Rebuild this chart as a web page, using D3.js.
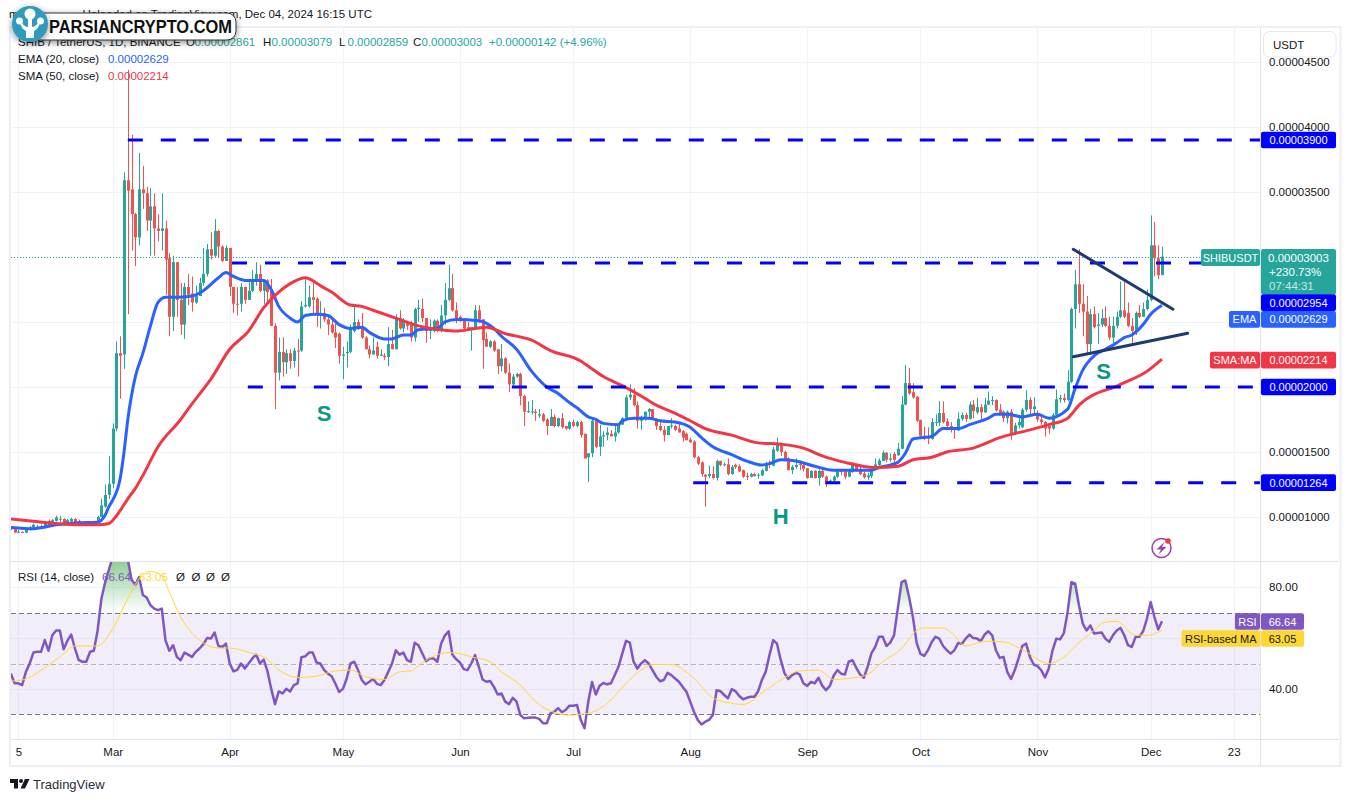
<!DOCTYPE html>
<html>
<head>
<meta charset="utf-8">
<title>SHIBUSDT</title>
<script src="https://cdn.jsdelivr.net/npm/d3@7"></script>
<style>
  html, body { margin: 0; padding: 0; background: #fff; }
  svg { display: block; }
  text { font-family: "Liberation Sans", Arial, sans-serif; font-size: 11.5px; fill: #131722; }
</style>
</head>
<body>
<svg id="chart" width="1350" height="802"></svg>
<script>
// prices are in millionths of a USDT, one entry per day from Feb 3 2024, a line per month
var opens = [
  9.1,9.15,8.85,8.85,8.8,9,9.2,9.2,9.2,9.25,9.7,9.4,9.7,9.85,9.85,9.5,9.65,9.85,9.7,9.55,9.5,9.4,9.55,9.6,10,10.8,11.7,
  12.55,16.8,22.6,22.5,35.9,35.2,33.3,31.5,35.2,34.9,32.8,33.9,32.2,32,32.2,29.9,25.4,29.6,26.7,24.8,27.7,27.2,26.5,27,28,28.7,30.6,30.1,32,30.8,29.7,
  30.7,27.7,26.4,26.4,27.7,26.7,27.4,28.2,28.7,27.4,28.2,27.4,24.7,21.1,22.7,21.9,22.6,22,22.8,22.8,26.2,26.2,26.9,26.8,25.6,25.7,25.2,24.8,24.2,24.1,
  22.4,22.6,22.7,24.3,25,24.7,23.8,22.9,22.5,23.1,22.4,22.4,22.3,23.3,22.9,25.3,24.5,25,24.9,23.8,26,26,25.3,24.3,24.3,25.1,24.3,25.5,26.7,27.6,25.9,
  25.4,25.2,24.6,24.4,24.6,25.9,25.2,23.7,23.1,23.5,22.9,21.6,22.2,21.1,20.2,20.8,21,19.3,18.1,18.1,18.1,17.8,17.9,17.5,17,17.7,17,17.6,17,16.8,
  17.3,17,17.3,16.4,14.6,14.9,17.4,15.4,16.2,16.3,16.4,16.2,16.5,17.1,17.6,19.2,19.4,18.6,17.4,17.7,18.1,18.3,17.5,17,16.7,16.3,17,17,16.8,16.6,16.4,
  15.95,15.8,14.6,14.2,13.25,13.15,13.3,13,14.3,14,14.05,13.3,14,13.9,13.6,13.15,13.1,13.3,13.2,13.2,13.55,14.1,13.95,15.1,15.5,15,14.5,13.6,13.85,14.1,14,
  13.75,13,13.55,13,13.55,13.1,12.7,12.8,13.1,13.6,13.5,13.1,13.45,14,13.65,13.35,13.05,13.15,13.65,14,14.3,14.95,14.4,14.85,14.75,15.25,18.65,20.3,19.6,19.25,
  17.45,16.25,16.2,16,17.3,17.25,18,17.35,17,16.75,16.65,17.55,17.85,17.55,18.65,18.05,18.45,18.05,18.65,18.95,19,18.25,18.1,17.6,18.1,16.45,17.05,16.9,18.25,19,18.3,
  17.95,17.5,17.3,17,16.8,17.85,19.05,19.15,19,20.4,26,27.9,26.4,25.8,23.3,25.6,24.7,24.8,25.3,24.7,23.8,24.7,25.4,25.9,25.7,24.7,24.3,25.7,25.4,26,
  26.7,30.9,29.9,28.61
];
var closes = [
  9.15,8.8,8.87,8.8,9,9.2,9.4,9.25,9.25,9.6,9.35,9.75,9.97,9.87,9.5,9.75,9.85,9.55,9.4,9.45,9.45,9.6,9.65,10,10.9,11.7,12.55,
  16.8,22.6,22.4,35.9,35.1,33.3,31.5,35.2,34.9,32.8,33.9,32.2,32,32.2,29.8,25.4,29.6,26.7,24.8,27.7,27.1,26.5,27,28,28.7,30.6,30.1,32,30.8,29.7,30.7,
  27.7,26.4,26.35,27.7,26.7,27.4,28.2,28.7,27.4,28.2,27.3,24.7,21.1,22.7,21.9,22.6,22,22.8,22.75,26.2,26.3,26.9,26.7,25.6,25.7,25.2,24.8,24.2,23.8,22.4,
  22.5,22.7,24.5,25,24.5,23.8,22.9,22.5,22.8,22.4,22.5,22.3,23.3,22.9,25.3,24.5,25,24.7,23.8,26,26.1,25.3,24.3,24.6,25.1,24.3,25.5,26.7,27.6,25.9,25.2,
  25.1,24.5,24.4,24.6,25.9,25.2,23.6,23.1,23.5,22.8,21.6,22.2,21.1,20.2,20.8,21,19.3,18.1,18.15,18.12,18,17.9,17.4,17,17.7,17,17.6,16.9,16.8,17.3,
  17,17.3,16.3,14.5,14.9,17.4,15.4,16.2,16.3,16.5,16.2,16.5,17.1,17.6,19.2,19.4,18.6,17.4,17.7,18.1,18.3,17.5,17,16.7,16.3,17,17.05,16.7,16.5,16.1,15.9,
  15.75,14.6,14.1,13.3,13.1,13.3,13,14.3,14,14.05,13.3,13.85,13.85,13.5,13.1,13.1,13.3,13.15,13.25,13.6,14.1,14,15.2,15.6,15,14.3,13.6,13.85,14,14,13.7,
  13,13.55,13,13.55,13.1,12.7,12.8,13.1,13.6,13.5,13.1,13.5,14,13.55,13.3,13.05,13.2,13.65,14.05,14.35,14.95,14.4,14.5,14.4,15.25,18.65,20.3,19.5,19.2,17.4,
  16.25,16,16,17.3,17.3,18,17.3,17,16.95,16.7,17.55,17.85,17.55,18.65,18.15,18.45,18.05,18.65,18.95,19,18.2,18,17.6,18.1,16.45,17.05,17.3,18.25,19,18.3,18.5,
  17.5,17.3,16.8,16.8,17.85,19.05,19.15,19,20.4,26,27.9,26.4,25.8,23.3,25.6,24.6,24.8,25.3,24.7,23.8,24.7,25.4,25.9,25.4,24.7,24.3,25.7,25.4,26,26.7,
  30.9,29.9,28.6,30.03
];
var highs = [
  9.3,9.2,9,8.9,9.05,9.3,9.5,9.4,9.4,9.7,9.8,9.85,10.1,10.05,9.9,9.85,9.95,9.9,9.8,9.65,9.6,9.65,9.7,10.1,11.4,12.5,14.7,
  17.2,23.5,23.9,36.5,44.4,39.4,33.4,38,37,35.4,35.3,34.9,33.3,34.9,32.8,30.3,30.1,29.6,28,28,28.7,28.5,27.8,28.4,30.7,31,31.9,32.9,32.1,30.9,30.9,
  30.7,27.7,27.7,28,27.7,28.2,29,29.6,29.4,28.3,28.3,28.3,24.9,23.8,23.8,22.9,22.9,23,23.7,26.6,28.3,27.8,28,26.9,26.6,26.1,25.5,25.3,24.9,24.2,
  23.1,23.5,24.8,26.3,25.2,25.7,23.9,23.2,23.8,23.5,22.9,22.6,24.6,24.4,25.6,25.9,25.3,25.1,25.1,26.1,26.7,26.8,25.3,25.2,25.2,25.2,26.3,28,29.4,28.7,26.5,
  25.5,25.3,25,24.6,26.3,26.3,25.2,24.2,23.6,23.6,22.9,23.3,22.3,21.8,21,21.1,21.1,19.4,18.9,19,18.3,18.3,18,17.6,18.3,17.9,17.65,18,17,17.4,
  17.5,17.4,17.4,16.4,14.9,17.6,17.5,17.1,16.6,16.9,16.7,17.1,17.1,17.7,19.4,20.2,19.9,18.9,17.8,18.1,18.4,18.3,17.6,17.3,17,17,17.6,17.1,17.3,16.7,16.5,
  16.1,15.9,14.7,14.3,13.3,13.95,13.9,14.4,14.35,14.2,14.5,14,14.1,14.05,13.65,13.4,13.4,13.4,13.35,13.7,14.25,14.35,15.4,16.1,15.7,15.1,14.6,14,14.5,14.3,14.1,
  13.75,13.6,13.6,13.65,13.7,13.2,12.9,13.2,13.7,13.7,13.6,13.6,14.2,14.1,13.9,13.5,13.4,13.75,14.5,14.5,15.1,15,14.9,15,15.7,19.3,21.7,21.45,20.3,19.3,
  17.5,16.95,16.9,17.6,17.9,18.9,18.9,17.6,17.3,16.9,18.05,18.05,18,18.9,19,19.15,18.7,19.15,19.65,19.3,19.05,18.7,18.2,18.2,18.3,17.25,17.6,18.4,19.75,19.2,19.2,
  18.2,17.8,17.4,17.2,18,19.8,19.4,19.5,21.3,26.1,29,30.6,27.9,27,26,26.2,25.7,26,26.2,25.4,25.4,25.8,28.1,28.1,26.5,25.3,25.8,26.3,26.5,27.5,
  33.2,32.7,30.9,30.79
];
var lows = [
  9,8.75,8.75,8.75,8.75,8.95,9.15,9.1,9.1,9.1,9.2,9.3,9.65,9.6,9.45,9.45,9.6,9.35,9.3,9.35,9.3,9.35,9.5,9.55,10,10.7,11.4,
  12.2,16.6,19.1,21.4,25.6,30.5,29.3,30.9,33.7,32,30.1,30.1,31.2,30.5,27.1,23.9,24.3,25.4,24,23.7,26.3,25.8,26.4,27,27.8,28.5,29.8,30,30,29.6,29.7,
  27,25.7,25.5,25.8,26.4,26.7,27.3,27.8,27.3,26.4,26.4,24.7,18.3,20.5,20.8,21,21.4,21.5,20.8,22.7,26.1,26.1,25.6,24.6,24.5,25,24,24.1,23,21.8,
  20.6,21.5,22.6,24.2,24.4,23.7,22.9,22.2,22.5,22.2,22.4,22.1,21.6,22.9,22.9,24.4,24.2,24.4,23.5,23.5,25,25,23.4,23.7,24.2,24.2,24.2,24.8,26.6,25.8,24.9,
  25,24.3,24.3,22.8,24.5,24.9,21.4,23.1,23,22.7,21,21.2,21,19.6,20,20.7,18.6,17,18,17.9,17.4,17.6,17.3,16.3,17,16.9,16.9,16.8,16.7,16.7,
  16.9,16.9,16.1,14.5,12.7,14.6,15.3,14.7,15.4,15.9,16.2,15.8,16.4,17.1,17.5,19,18.5,16.8,16.7,17.4,17.5,17.5,16.7,16.6,15.8,16.3,16.8,16.6,16.5,15.8,15.9,
  15.7,14.5,14,13.1,10.8,13,12.9,12.8,13.9,13.9,13.2,13.25,13.7,13.45,13,12.85,13.05,13.1,12.95,13.15,13.5,13.75,13.9,15,14.7,14.3,13.6,13.3,13.7,13.6,13.5,
  12.95,13,12.95,12.4,13,12.3,12.6,12.7,13,13.2,12.9,13.05,13.4,13.5,13.2,12.95,12.85,13,13.6,13.9,14.3,14.2,14.25,14.2,14.7,15.2,18.6,19.4,19.1,17.3,
  16,15.9,15.6,15.95,17,17,17.2,16.9,16.5,16,16.6,17.4,17.3,17.5,17.6,17.9,17.5,18,18.6,18.6,18.1,17.9,17.3,17.2,15.9,16.3,16.8,16.85,18.1,17.9,18,
  17.3,17.1,16.2,16.4,16.7,17.6,18.8,18.8,18.9,20.3,24.5,25.7,23.9,22.6,22.6,24.5,23.3,24.6,24.6,23.6,22.9,24.5,25.3,25.3,24.6,23.4,24,25.3,25.4,25.9,
  26.6,28.5,28.3,28.59
];

var emaDays = [0,6,12,18,23,25,26,27,29,30,31,33,35,37,39,41,44,48,51,55,57,59,62,67,69,71,74,76,78,81,84,87,90,93,95,99,101,104,106,108,113,115,118,124,128,130,134,138,142,145,148,150,153,155,157,161,162,165,169,172,176,180,183,186,191,195,199,201,204,208,213,218,223,228,230,235,237,239,241,244,247,251,254,259,261,264,268,272,275,280,282,284,287,290,293,295,297,300,302,305];
var emaValues = [9.2,9.1,9.4,9.55,9.6,10.15,10.8,11.3,13,15,17.5,20.8,22.6,24.7,26.5,26.9,26.9,27,27.4,28.4,28.8,28.5,28.2,28.2,27.5,26.2,25.3,25,25.5,25.6,25.5,24.8,24.5,24.6,24.2,23.7,23.7,24,24,24.4,24.5,25,25.2,25.1,24.5,23.9,22.9,21.2,20,19.5,18.8,18.4,17.7,17.5,17.2,17.1,17.4,17.6,17.6,17.4,17.3,16.9,16.1,15.4,14.8,14.3,14,14.1,14.4,14.3,13.9,13.6,13.6,13.6,13.8,14.2,14.9,16,16.1,16.2,16.8,16.8,17.1,17.6,17.9,17.9,17.7,17.9,17.6,18.3,19.9,21.3,22.4,22.9,23.4,23.8,24,24.8,25.6,26.29];
var smaDays = [0,6,12,18,23,26,28,31,33,35,39,45,48,53,58,63,67,71,75,78,82,85,90,93,96,102,108,114,118,123,126,131,138,143,151,153,157,162,167,171,175,180,184,191,198,204,210,215,221,229,235,239,244,248,255,262,270,275,280,283,294,301,305];
var smaValues = [9.85,9.67,9.5,9.4,9.4,9.5,10.1,11.4,12.2,13.2,15.4,17.5,18.7,20.6,22.9,24.3,26.1,27.3,28.1,28.4,27.8,27.3,26.3,26.2,25.9,25.3,24.7,24.4,24.3,24.5,24.6,24.1,23.6,22.8,22,21.6,20.8,20.1,19.3,18.6,18.1,17.4,16.8,16.3,15.7,15.6,15.3,14.7,14.2,13.8,13.9,14.4,14.6,15,15.3,16.1,16.7,17.1,17.6,18.6,20.2,21.2,22.14];

var rsiValues = [
  46.1,42.2,42.2,41.5,46.7,50,54.3,54.6,54.6,59.2,55,61.1,63,63,55.6,59,61.4,55.9,51.3,50.7,50.7,54.6,55,63,75.5,82,87,
  92,96,96,95,91,83,81,84,77,76,73,71.6,71,71.6,59,55,57.2,52.6,51.3,54.3,53.5,52.6,54.6,55.9,57.5,60,59.8,62.2,56.9,56.5,57.8,
  50,46.9,47.5,50,48,50,52,53.5,50,51.5,47,40,34,39,38.2,40,39,41.5,42.2,52.5,52.8,54.3,54.3,50.4,50,47.5,46,45,42,38.8,
  40,44.1,50,50.7,47.4,43.5,41.8,42.8,43.9,42,41.5,43.5,46.7,50,55.2,53.5,54.3,51.3,50.7,58.2,57.2,54,50.9,52,52,50.7,57.8,61,62.7,53.5,51.7,
  50.4,47.8,47.4,50,53.3,48.7,43.7,42.8,43.1,40.8,37.8,38.2,35,34,36.5,35,29.7,28.4,28.6,28.7,28.7,28.2,26.5,26.5,30.4,31,32.4,30.8,31.7,33.4,
  33.4,33.7,27.8,24.5,35,42.7,37.8,41.2,42.3,41.8,42.2,45.4,48.7,53.9,58.9,58.2,50.7,48,50,51.3,50,47.4,44.8,43,43.5,46.3,45.4,44.1,42.8,40.8,38.9,
  35,31,27.8,26,27.1,27.8,29.7,39.5,39.1,37.6,36.3,39.9,39.1,37.2,35.9,36.5,36.9,36.9,39.1,43.5,46.7,53.3,59.2,57.8,51.3,46.1,43.9,45.4,46.3,45.7,42.2,
  41.2,42.8,42.2,44.4,41.2,39.5,41.2,45.2,47.4,46,45.7,50.7,51.3,48.3,45.7,44.4,48.7,54,56.5,60.5,60.5,56.9,58.2,61.1,71.6,82,82.7,76.1,68.3,58.1,
  53.8,53,55.2,58.5,60.5,59.8,56.9,55.2,53.9,55.2,58.1,57.8,59.8,61.4,60,59.8,58.8,61.4,62.7,61.1,55.2,52.2,52.6,46.7,43.9,47.4,52,56.9,57.8,52.6,49.6,
  49,47.4,44.5,48,55.2,59.8,59.5,62,70.3,82,81.4,72.9,65.7,63,65,61.8,62,62.2,59.8,58.5,61.1,63,64,61.1,57.2,56.5,60.5,60.5,62.7,67.6,
  74.2,68.3,63.4,66.64
];
var rsiMaDays = [0,3,9,13,17,23,27,31,34,37,40,42,45,50,55,58,64,67,72,76,81,86,90,94,99,103,106,109,116,119,122,127,130,135,139,143,148,153,159,163,167,170,175,181,186,190,194,200,205,209,214,218,222,227,231,236,240,242,247,249,253,258,263,268,275,279,283,286,290,293,298,301,305];
var rsiMaValues = [43.1,43.5,48.3,52.6,56.9,56.9,63.7,75.5,83.3,86.3,84.6,78.1,68.3,59.2,56.1,56.1,53.9,52.6,46.5,44.5,45,47.1,47.4,44.8,43.7,46.7,47.1,50.4,54.3,53.9,52.6,50.7,46.7,41.5,35,31.3,29.7,30.4,35.6,42.2,47.4,49.6,49.6,44.1,36.5,34.6,33.9,39.5,44.4,47.1,47.4,43.7,44.1,45.7,50.7,55.9,63,64,64,62.4,56.9,58.8,58.5,55.5,50,52.6,58.2,61.8,66.3,66.6,61.1,61.1,63.05];

var tickDays = [2,27,58,88,119,149,180,211,241,272,302,324];
var tickLabels = ['5','Mar','Apr','May','Jun','Jul','Aug','Sep','Oct','Nov','Dec','23'];
var priceGrid = [10,15,20,25,30,35,40,45];
var priceTicks = [10,15,35,40,45];
var rsiTicks = [40,80];
var rsiGrid = [40,60,80];

var levelValues = [39,29.54,20,12.64];
var levelStartDays = [31,58.6,62.8,180.8];
var trendDays = [[281.5,307.9],[281.5,311.8]];
var trendValues = [[30.59,25.98],[22.33,24.13]];
var patternLetters = ['S','H','S'];
var patternDays = [83,204,289.5];
var patternValues = [17.35,9.46,20.6];

var lastClose = 30.03;
var green = '#26a69a';
var red = '#ef5350';
var blue = '#2962ff';
var maRed = '#f23645';
var levelBlue = '#0000ff';
var purple = '#7e57c2';
var yellow = '#fdd835';

var left = 11;
var axisX = 1261;
var right = 1336;
var top_ = 28;
var paneSplit = 561.5;
var rsiBottom = 739.5;
var frameBottom = 766;

var x = d3.scaleLinear().domain([0, 305]).range([10.8, 1162]);
var y = d3.scaleLinear().domain([6.56, 47.69]).range([561.7, 27]);
var yRsi = d3.scaleLinear().domain([30, 80]).range([714.3, 587.3]);

var svg = d3.select('#chart');
var defs = svg.append('defs');

(function go() {
  drawFrame();
  drawGrid();
  drawPricePane();
  drawRsiPane();
  drawAxes();
  drawTags();
  drawLegends();
  drawWatermark();
  drawFooter();
})();

function fmt(v) {
  return (v / 1e6).toFixed(8);
}

function drawFrame() {
  defs.append('clipPath').attr('id', 'main-clip').append('rect')
    .attr('x', left).attr('y', top_).attr('width', axisX - left).attr('height', paneSplit - top_);
  defs.append('clipPath').attr('id', 'rsi-clip').append('rect')
    .attr('x', left).attr('y', paneSplit).attr('width', axisX - left).attr('height', rsiBottom - paneSplit);

  svg.append('rect')
    .attr('x', 10).attr('y', 27).attr('width', 1330.5).attr('height', frameBottom - 27)
    .attr('fill', '#fff').attr('stroke', '#eeeef5').attr('stroke-width', 2);

  svg.append('text').attr('x', 9).attr('y', 18).attr('fill', '#2a2e39').text('m');
  svg.append('text').attr('x', 372).attr('y', 18).attr('text-anchor', 'end').attr('fill', '#2a2e39')
    .text('Uploaded on TradingView.com, Dec 04, 2024 16:15 UTC');
}

function drawGrid() {
  var grid = svg.append('g').attr('stroke', '#f0f3fa').attr('stroke-width', 1).attr('fill', 'none');
  grid.selectAll('.v').data(tickDays).enter().append('line')
    .attr('x1', function (d) { return Math.round(x(d)) + 0.5; })
    .attr('x2', function (d) { return Math.round(x(d)) + 0.5; })
    .attr('y1', top_).attr('y2', rsiBottom);
  grid.selectAll('.h').data(priceGrid).enter().append('line')
    .attr('x1', left).attr('x2', axisX)
    .attr('y1', function (d) { return Math.round(y(d)) + 0.5; })
    .attr('y2', function (d) { return Math.round(y(d)) + 0.5; });
  grid.selectAll('.r').data(rsiGrid).enter().append('line')
    .attr('x1', left).attr('x2', axisX)
    .attr('y1', function (d) { return Math.round(yRsi(d)) + 0.5; })
    .attr('y2', function (d) { return Math.round(yRsi(d)) + 0.5; });
}

function linePath(days, values, scale) {
  return d3.line()
    .x(function (d) { return x(d); })
    .y(function (d, i) { return scale(values[i]); })
    .curve(d3.curveMonotoneX)(days);
}

function drawPricePane() {
  var pane = svg.append('g').attr('clip-path', 'url(#main-clip)');
  var days = d3.range(opens.length);

  pane.append('line')
    .attr('x1', left).attr('x2', 1200)
    .attr('y1', Math.round(y(lastClose)) + 0.5).attr('y2', Math.round(y(lastClose)) + 0.5)
    .attr('stroke', green).attr('stroke-width', 1).attr('stroke-dasharray', '1 2');

  function barColor(i) {
    return closes[i] >= opens[i] ? green : red;
  }

  pane.selectAll('.wick').data(days).enter().append('rect')
    .attr('x', function (i) { return Math.round(x(i)); })
    .attr('width', 1)
    .attr('y', function (i) { return y(highs[i]); })
    .attr('height', function (i) { return y(lows[i]) - y(highs[i]); })
    .attr('fill', barColor);

  pane.selectAll('.body').data(days).enter().append('rect')
    .attr('x', function (i) { return Math.round(x(i)) - 1; })
    .attr('width', 3)
    .attr('y', function (i) { return y(Math.max(opens[i], closes[i])); })
    .attr('height', function (i) { return Math.max(1, Math.abs(y(opens[i]) - y(closes[i]))); })
    .attr('fill', barColor);

  pane.append('path').attr('d', linePath(emaDays, emaValues, y))
    .attr('fill', 'none').attr('stroke', blue).attr('stroke-width', 3).attr('stroke-linejoin', 'round');
  pane.append('path').attr('d', linePath(smaDays, smaValues, y))
    .attr('fill', 'none').attr('stroke', maRed).attr('stroke-width', 3).attr('stroke-linejoin', 'round');

  pane.selectAll('.level').data(levelValues).enter().append('line')
    .attr('x1', function (d, i) { return x(levelStartDays[i]); })
    .attr('x2', axisX)
    .attr('y1', function (d) { return y(d); })
    .attr('y2', function (d) { return y(d); })
    .attr('stroke', levelBlue).attr('stroke-width', 3).attr('stroke-dasharray', '15 18');

  pane.selectAll('.trend').data(trendDays).enter().append('line')
    .attr('x1', function (d) { return x(d[0]); })
    .attr('x2', function (d) { return x(d[1]); })
    .attr('y1', function (d, i) { return y(trendValues[i][0]); })
    .attr('y2', function (d, i) { return y(trendValues[i][1]); })
    .attr('stroke', '#1d3b70').attr('stroke-width', 3).attr('stroke-linecap', 'round');

  pane.selectAll('.letter').data(patternLetters).enter().append('text')
    .attr('x', function (d, i) { return x(patternDays[i]); })
    .attr('y', function (d, i) { return y(patternValues[i]); })
    .attr('text-anchor', 'middle')
    .style('font-size', '22px').style('font-weight', 'bold').style('fill', '#089981')
    .text(function (d) { return d; });

  // alert icon
  var icon = svg.append('g').attr('transform', 'translate(1161.5,548)');
  icon.append('circle').attr('r', 9.5).attr('fill', '#fff').attr('stroke', '#9c40ad').attr('stroke-width', 1.5);
  icon.append('path').attr('d', 'M3,-6 L-5,1.5 L-0.5,1.5 L-3,6.5 L5,-1 L0.5,-1 Z').attr('fill', '#9c40ad');
  icon.append('circle').attr('cx', 6.5).attr('cy', -7).attr('r', 2.8).attr('fill', maRed);
}

function drawRsiPane() {
  var pane = svg.append('g').attr('clip-path', 'url(#rsi-clip)');
  var days = d3.range(rsiValues.length);

  pane.append('rect')
    .attr('x', left).attr('width', axisX - left)
    .attr('y', yRsi(70)).attr('height', yRsi(30) - yRsi(70))
    .attr('fill', purple).attr('fill-opacity', 0.1);

  var grad = defs.append('linearGradient').attr('id', 'ob').attr('gradientUnits', 'userSpaceOnUse')
    .attr('x1', 0).attr('x2', 0).attr('y1', yRsi(90)).attr('y2', yRsi(70));
  grad.append('stop').attr('offset', 0).attr('stop-color', '#4caf50').attr('stop-opacity', 0.6);
  grad.append('stop').attr('offset', 1).attr('stop-color', '#4caf50').attr('stop-opacity', 0);

  pane.append('path')
    .attr('d', d3.area()
      .x(function (i) { return x(i); })
      .y0(yRsi(70))
      .y1(function (i) { return yRsi(Math.max(70, rsiValues[i])); })(days))
    .attr('fill', 'url(#ob)');

  [[70, '#787b86'], [30, '#787b86'], [50, '#b2b5be']].forEach(function (row) {
    pane.append('line')
      .attr('x1', left).attr('x2', axisX)
      .attr('y1', Math.round(yRsi(row[0])) + 0.5).attr('y2', Math.round(yRsi(row[0])) + 0.5)
      .attr('stroke', row[1]).attr('stroke-dasharray', '5 3');
  });

  pane.append('path')
    .attr('d', d3.line().x(function (i) { return x(i); }).y(function (i) { return yRsi(rsiValues[i]); })(days))
    .attr('fill', 'none').attr('stroke', purple).attr('stroke-width', 2.5).attr('stroke-linejoin', 'round');

  pane.append('path').attr('d', linePath(rsiMaDays, rsiMaValues, yRsi))
    .attr('fill', 'none').attr('stroke', yellow).attr('stroke-width', 1);
}

function drawAxes() {
  var border = '#e0e3eb';
  svg.append('line').attr('x1', axisX - 0.5).attr('x2', axisX - 0.5).attr('y1', top_).attr('y2', frameBottom)
    .attr('stroke', border);
  svg.append('line').attr('x1', left).attr('x2', 1339).attr('y1', paneSplit).attr('y2', paneSplit)
    .attr('stroke', border);
  svg.append('line').attr('x1', left).attr('x2', 1339).attr('y1', rsiBottom).attr('y2', rsiBottom)
    .attr('stroke', border);

  var priceAxis = d3.axisRight(y).tickValues(priceTicks).tickSize(0).tickPadding(0).tickFormat(fmt);
  svg.append('g').attr('transform', 'translate(1269,0)').call(priceAxis)
    .call(cleanAxis);

  var rsiAxis = d3.axisRight(yRsi).tickValues(rsiTicks).tickSize(0).tickPadding(0).tickFormat(d3.format('.2f'));
  svg.append('g').attr('transform', 'translate(1269,0)').call(rsiAxis)
    .call(cleanAxis);

  var timeAxis = d3.axisBottom(x).tickValues(tickDays).tickSize(0).tickPadding(0)
    .tickFormat(function (d, i) { return tickLabels[i]; });
  svg.append('g').attr('transform', 'translate(0,748)').call(timeAxis)
    .call(cleanAxis);
}

function cleanAxis(g) {
  g.select('.domain').remove();
  g.selectAll('text').style('font-family', '"Liberation Sans", Arial, sans-serif').style('font-size', '11.5px').style('fill', '#131722');
}

function tag(x0, x1, yMid, h, fill, label, textFill) {
  svg.append('rect').attr('x', x0).attr('width', x1 - x0).attr('y', yMid - h / 2).attr('height', h)
    .attr('fill', fill).attr('rx', 2);
  svg.append('text').attr('x', (x0 + x1) / 2).attr('y', yMid + 4).attr('text-anchor', 'middle')
    .style('fill', textFill || '#fff').style('font-size', '11px').text(label);
}

function drawTags() {
  // button over the top of the price scale
  svg.append('rect').attr('x', 1263.5).attr('y', 31.5).attr('width', 72.5).attr('height', 25.5).attr('rx', 6)
    .attr('fill', '#fff').attr('stroke', '#e6e8f0');
  svg.append('text').attr('x', 1273).attr('y', 48.5).text('USDT');

  tag(1201, 1260, 257.5, 17, green, 'SHIBUSDT');
  svg.append('rect').attr('x', 1261).attr('width', right - 1261).attr('y', 249).attr('height', 45.5)
    .attr('fill', green).attr('rx', 2);
  svg.append('text').attr('x', 1298.5).attr('y', 262).attr('text-anchor', 'middle').style('fill', '#fff').text(fmt(lastClose));
  svg.append('text').attr('x', 1269).attr('y', 276).style('fill', '#fff').text('+230.73%');
  svg.append('text').attr('x', 1269).attr('y', 289.5).style('fill', '#c9e8e4').text('07:44:31');

  tag(1261, right, y(levelValues[0]), 16.6, levelBlue, fmt(levelValues[0]));
  tag(1261, right, 302.6, 16.6, levelBlue, fmt(levelValues[1]));
  tag(1229, 1260, 319.4, 16.6, blue, 'EMA');
  tag(1261, right, 319.4, 16.6, blue, fmt(emaValues[emaValues.length - 1]));
  tag(1210, 1260, y(smaValues[smaValues.length - 1]) + 1, 16.6, maRed, 'SMA:MA');
  tag(1261, right, y(smaValues[smaValues.length - 1]) + 1, 16.6, maRed, fmt(smaValues[smaValues.length - 1]));
  tag(1261, right, y(levelValues[2]), 16.6, levelBlue, fmt(levelValues[2]));
  tag(1261, right, y(levelValues[3]), 16.6, levelBlue, fmt(levelValues[3]));

  tag(1235, 1260, 621.5, 16.6, purple, 'RSI');
  tag(1261, 1304, 621.5, 16.6, purple, d3.format('.2f')(rsiValues[rsiValues.length - 1]));
  tag(1181.5, 1260, 638.5, 16.6, yellow, 'RSI-based MA', '#131722');
  tag(1261, 1304, 638.5, 16.6, yellow, d3.format('.2f')(rsiMaValues[rsiMaValues.length - 1]), '#131722');
}

function legendText(px, py, label, color) {
  svg.append('text').attr('x', px).attr('y', py).style('fill', color || '#131722').text(label);
}

function drawLegends() {
  var ohlc = ['0.00002861', '0.00003079', '0.00002859', '0.00003003'];
  legendText(18, 46, 'SHIB / TetherUS, 1D, BINANCE');
  ['O', 'H', 'L', 'C'].forEach(function (k, i) {
    var px = [186, 263, 339, 413][i];
    legendText(px, 46, k);
    legendText(px + 8.5, 46, ohlc[i], green);
  });
  legendText(489, 46, '+0.00000142 (+4.96%)', green);
  legendText(18, 63, 'EMA (20, close)');
  legendText(108, 63, fmt(emaValues[emaValues.length - 1]), blue);
  legendText(18, 80, 'SMA (50, close)');
  legendText(108, 80, fmt(smaValues[smaValues.length - 1]), maRed);
  legendText(18, 581, 'RSI (14, close)');
  legendText(102, 581, d3.format('.2f')(rsiValues[rsiValues.length - 1]), purple);
  legendText(139, 581, d3.format('.2f')(rsiMaValues[rsiMaValues.length - 1]), yellow);
  [176, 191.5, 206, 221].forEach(function (px) {
    legendText(px, 581, '\u00d8');
  });
}

function drawWatermark() {
  var shadow = defs.append('filter').attr('id', 'soft').attr('x', '-20%').attr('y', '-50%').attr('width', '140%').attr('height', '200%');
  shadow.append('feDropShadow').attr('dx', 0).attr('dy', 2).attr('stdDeviation', 3).attr('flood-opacity', 0.45);

  var mark = svg.append('g');
  mark.append('rect').attr('x', 30).attr('y', 13).attr('width', 206).attr('height', 27).attr('rx', 9)
    .attr('fill', '#fff').attr('stroke', '#333').attr('stroke-width', 1).attr('filter', 'url(#soft)');
  mark.append('circle').attr('cx', 30).attr('cy', 24).attr('r', 18).attr('fill', '#2f9bbd').attr('filter', 'url(#soft)');
  mark.append('circle').attr('cx', 30).attr('cy', 14).attr('r', 5.5).attr('fill', '#fff');
  mark.append('circle').attr('cx', 19.5).attr('cy', 21).attr('r', 3.5).attr('fill', '#fff');
  mark.append('circle').attr('cx', 40.5).attr('cy', 21).attr('r', 3.5).attr('fill', '#fff');
  mark.append('path')
    .attr('d', 'M26,38 L26,31 Q21,28 20,23 L22,23 Q25,27 28,27 L28,17 L32,17 L32,27 Q35,27 38,23 L40,23 Q39,28 34,31 L34,38 Z')
    .attr('fill', '#fff');
  mark.append('text').attr('x', 49).attr('y', 33)
    .attr('textLength', 183).attr('lengthAdjust', 'spacingAndGlyphs')
    .style('font-size', '18px').style('font-weight', 'bold').style('fill', '#111')
    .text('PARSIANCRYPTO.COM');
}

function drawFooter() {
  var logo = svg.append('g').attr('transform', 'translate(10,779)').attr('fill', '#131722');
  logo.append('path').attr('d', 'M0,0 H8 V9.5 H4 V4 H0 Z');
  logo.append('circle').attr('cx', 11).attr('cy', 2).attr('r', 2);
  logo.append('path').attr('d', 'M15,0 H19.5 L15,9.5 H10.5 Z');
  svg.append('text').attr('x', 33).attr('y', 789).style('font-size', '13px').style('fill', '#2a2e39').text('TradingView');
}
</script>
</body>
</html>
